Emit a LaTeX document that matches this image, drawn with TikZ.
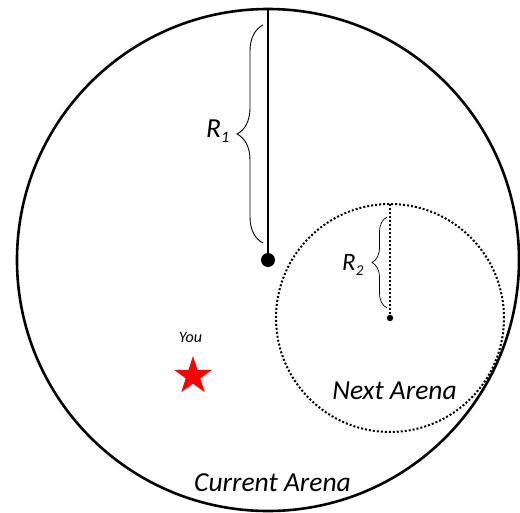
\documentclass[tikz,border=0pt]{standalone}
\usepackage{fontspec}
\setmainfont{Carlito}
\usetikzlibrary{decorations.pathreplacing,shapes.geometric}
\begin{document}
\begin{tikzpicture}[x=1pt,y=-1pt,
  arena/.style={circle,inner sep=0pt,outer sep=0pt},
  lbl/.style={inner sep=0pt,anchor=base,font=\itshape},
  bracestyle/.style={decorate,decoration={brace,amplitude=#1},line width=0.9pt},
  dotline/.style={line width=2pt,dash pattern=on 2pt off 2pt}]
\useasboundingbox (0,0) rectangle (520,512);
% current arena
\node[arena,draw,line width=2.6pt,minimum size=502pt] (cur) at (268,260) {};
\coordinate (c1) at (268,260);
\draw[line width=2.6pt] (cur.north) -- (c1);
\fill (c1) circle (7);
% next arena
\node[arena,draw,dotline,minimum size=228pt] (next) at (390,318) {};
\coordinate (c2) at (390,318);
\draw[dotline] (next.north) -- (c2);
\fill (c2) circle (3.2);
% braces
\coordinate (b1a) at (263,243);
\coordinate (b1b) at (263,25);
\draw[bracestyle=26pt] (b1a) -- (b1b);
\coordinate (b2a) at (387,308);
\coordinate (b2b) at (387,217);
\draw[bracestyle=15pt,line width=0.7pt] (b2a) -- (b2b);
% labels
\node[lbl,anchor=base west,font=\itshape\fontsize{27.5}{27.5}\selectfont] (r1) at (206,137) {R\raisebox{-0.2em}{\fontsize{16}{16}\selectfont 1}};
\node[lbl,anchor=base west,font=\itshape\fontsize{25}{25}\selectfont] (r2) at (342,270) {R\raisebox{-0.2em}{\fontsize{15}{15}\selectfont 2}};
\node[lbl,font=\itshape\fontsize{27.5}{27.5}\selectfont] (nexttext) at (394.5,399) {Next Arena};
\node[lbl,font=\itshape\fontsize{27.5}{27.5}\selectfont] (curtext) at (272.5,491) {Current Arena};
\node[lbl,font=\itshape\fontsize{16}{16}\selectfont] (you) at (190.5,342) {You};
\node[star,star points=5,star point ratio=2.618,fill=red,inner sep=0pt,minimum size=40pt] (star) at (193,376) {};
\end{tikzpicture}
\end{document}
